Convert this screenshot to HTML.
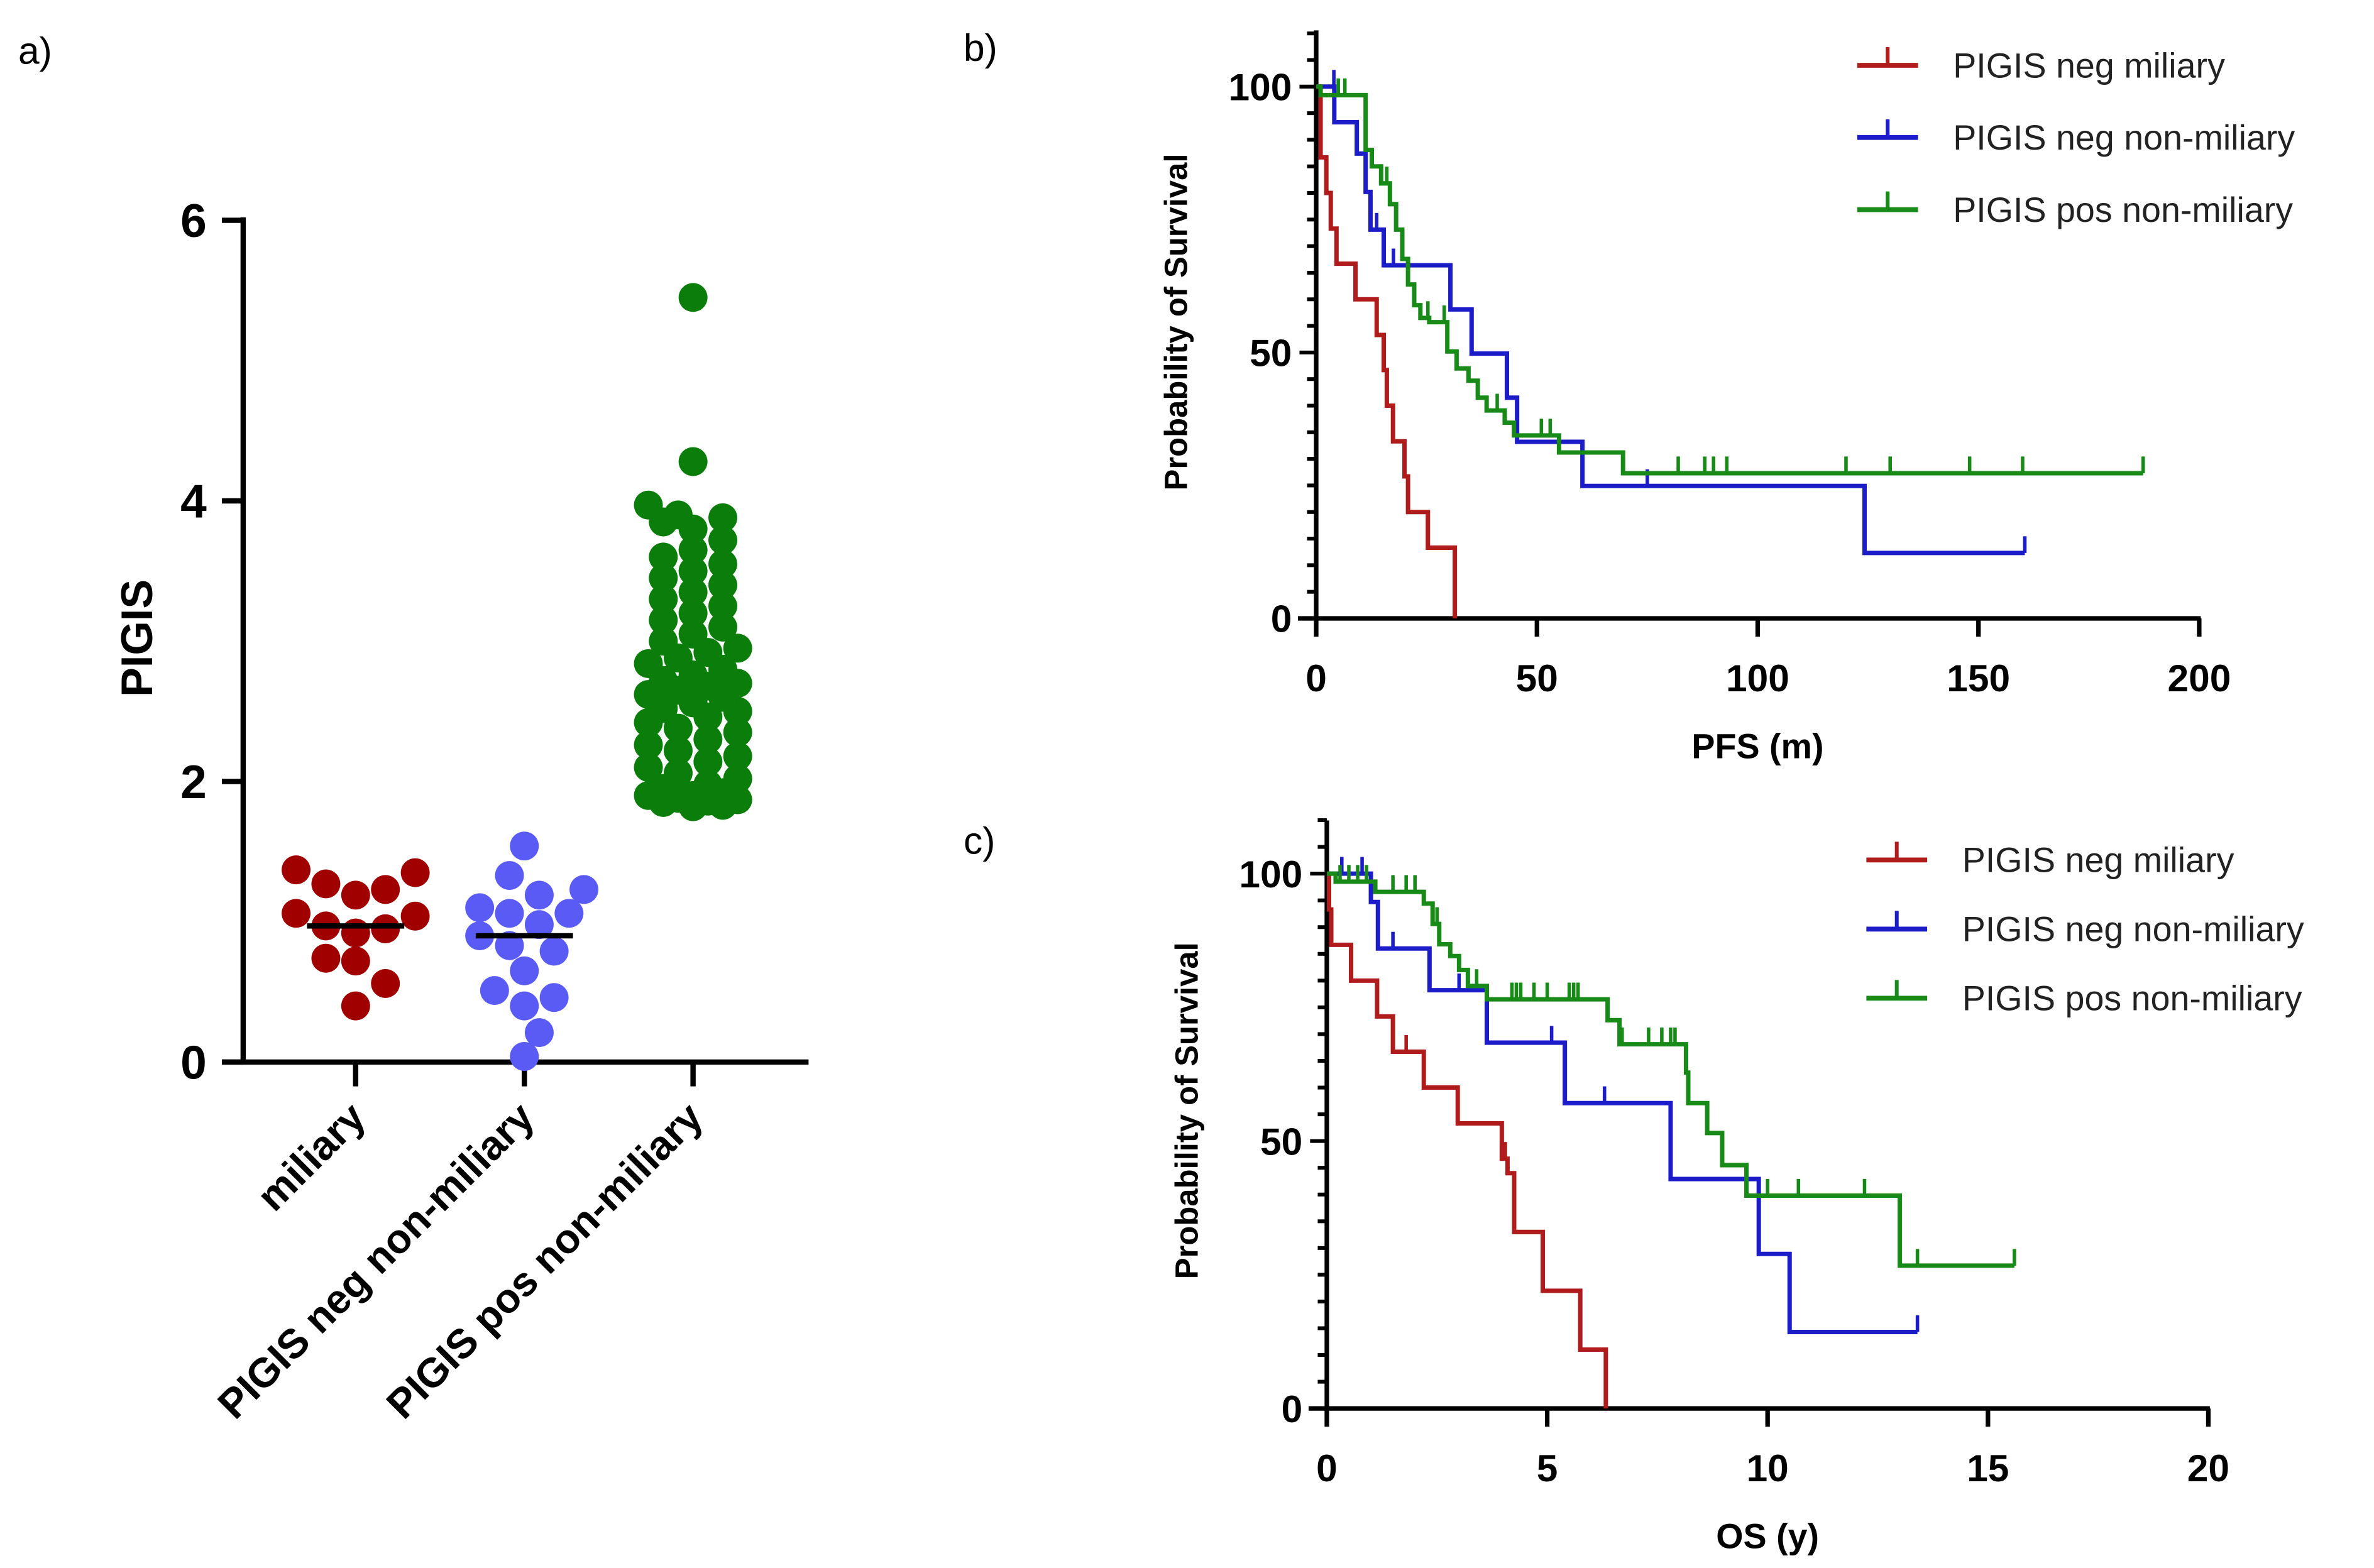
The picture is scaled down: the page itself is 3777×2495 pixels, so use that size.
<!DOCTYPE html>
<html><head><meta charset="utf-8"><style>
html,body{margin:0;padding:0;background:#fff;}
svg{display:block;}
text{font-family:"Liberation Sans",Arial,sans-serif;}
</style></head><body>
<svg id="fig" xmlns="http://www.w3.org/2000/svg" width="3777" height="2495" viewBox="0 0 1562 1032" preserveAspectRatio="none">
<rect width="1562" height="1032" fill="#fff"/>
<text x="12" y="42" font-size="25">a)</text>
<text x="634" y="40" font-size="25">b)</text>
<text x="634" y="562" font-size="25">c)</text>
<g id="pa"></g>
<g id="pb"></g>
<g id="pc"></g>
</svg>
<script>
// ---------- Panel a data ----------
const catLabels = ["miliary","PIGIS neg non-miliary","PIGIS pos non-miliary"];
const redVals = [1.27,1.23,1.35,1.37,1.19,1.04,1.06,0.95,0.92,0.97,0.72,0.74,0.56,0.40];
const blueVals = [1.06,1.10,1.33,1.54,1.19,1.23,1.06,0.98,0.90,0.83,0.79,0.65,0.51,0.46,0.40,0.21,0.04];
const greenVals = [5.45,4.28,3.97,3.9,3.88,3.85,3.8,3.72,3.65,3.6,3.55,3.5,3.45,3.4,3.35,3.3,3.25,3.2,3.15,3.1,3.05,3.0,2.95,2.92,2.88,2.84,2.8,2.76,2.72,2.7,2.68,2.65,2.62,2.6,2.56,2.52,2.5,2.46,2.42,2.38,2.35,2.3,2.26,2.22,2.18,2.14,2.1,2.06,2.02,1.98,1.95,1.92,1.9,1.88,1.86,1.85,1.83,1.82,1.87,1.9];
const medians = [0.97,0.90,null];
const yTicksA = [0,2,4,6];

// ---------- Panel b data (PFS, months, %) ----------
const bRedT = [1,2.3,3.3,4.6,8.9,13.7,15.3,16,17.4,20,20.8,25.3,31.4];
const bRedS = [86.7,80,73.3,66.7,60,53.3,46.7,40,33.3,26.7,20,13.3,0];
const bRedCens = [];
const bBlueT = [4.1,9.2,11.2,12.3,15.3,30.4,35.2,43.2,45.5,60.3,124.2];
const bBlueS = [93.3,87.4,80.2,73.1,66.4,58.1,49.8,41.5,33.2,24.9,12.3];
const bBlueCens = [4,13.7,17.5,75,160.5];
const bBlueEnd = 160.5;
const bGreenT = [1,11.2,12.6,14.7,16.7,18.1,19.5,20.8,22.2,23.6,25.6,29.7,31.8,34.5,36.6,38.6,42.7,44.8,55,69.5,92.1];
const bGreenS = [98.4,88.1,85,81.8,77.9,73.1,67.6,62.8,58.9,56.5,55.7,50.2,47,44.7,41.5,39.1,36.8,34.4,31.2,27.3,27.3];
const bGreenCens = [5,6.5,16,25.3,29,41,51,53,82,88,90,93,120,130,148,160,187.3];
const bGreenEnd = 187.3;
const bXTicks = [0,50,100,150,200];

// ---------- Panel c data (OS, years, %) ----------
const cRedT = [0.05,0.1,0.55,1.14,1.5,2.2,2.97,3.97,4.1,4.25,4.9,5.75,6.33];
const cRedS = [93.3,86.7,80,73.3,66.7,60,53.3,46.7,44,33,22,11,0];
const cRedCens = [1.8,4.05];
const cBlueT = [1.0,1.16,2.33,3.63,5.4,7.8,9.8,10.5];
const cBlueS = [94.7,86,78.2,68.4,57.1,42.9,28.9,14.3];
const cBlueCens = [0.34,0.8,1.5,3.0,5.1,6.3,13.4];
const cBlueEnd = 13.4;
const cGreenT = [0.2,1.1,2.2,2.4,2.55,2.8,3.0,3.2,3.63,6.37,6.64,8.15,8.2,8.63,8.97,9.52,13.0];
const cGreenS = [98.5,96.6,94.4,90.6,86.8,84.6,82,79,76.5,72.6,68.1,62.8,57.1,51.5,45.5,39.8,26.7];
const cGreenCens = [0.3,0.5,0.7,0.9,1.5,1.8,2.0,2.5,3.4,4.2,4.3,4.4,4.7,5.0,5.5,5.6,5.7,6.7,7.3,7.6,7.8,7.9,10.0,10.7,12.2,13.4,15.6];
const cGreenEnd = 15.6;
const cXTicks = [0,5,10,15,20];
const kmYTicks = [0,50,100];
const legendLabels = ["PIGIS neg miliary","PIGIS neg non-miliary","PIGIS pos non-miliary"];

const NS="http://www.w3.org/2000/svg";
function mk(parent,tag,attrs,txt){const e=document.createElementNS(NS,tag);for(const k in attrs)e.setAttribute(k,attrs[k]);if(txt!==undefined)e.textContent=txt;parent.appendChild(e);return e;}

// ---------- Panel a ----------
(function(){
const g=document.getElementById('pa');
const ax0=160, y0=699, y6=145;
const yS=v=>y0-(v-0)*(y0-y6)/6;
const catX=[234,345,456];
let e=mk(g,'line',{x1:ax0,y1:y6-2,x2:ax0,y2:y0+1,stroke:'#000','stroke-width':3.5});

e=mk(g,'line',{x1:ax0-14,y1:y0,x2:532,y2:y0,stroke:'#000','stroke-width':3.5});

yTicksA.forEach(v=>{
 const l=mk(g,'line',{x1:ax0-14,y1:yS(v),x2:ax0,y2:yS(v),stroke:'#000','stroke-width':3.5});
 
 const t=mk(g,'text',{x:ax0-24,y:yS(v)+11,'text-anchor':'end','font-size':31,'font-weight':'bold'},String(v));
 
});
e=mk(g,'text',{x:0,y:0,transform:'translate(100,420) rotate(-90)','text-anchor':'middle','font-size':29,'font-weight':'bold'},'PIGIS');

catX.forEach((x,i)=>{
 const l=mk(g,'line',{x1:x,y1:y0,x2:x,y2:y0+16,stroke:'#000','stroke-width':3.5});
 
 const t=mk(g,'text',{x:0,y:0,transform:`translate(${x+8},${y0+38}) rotate(-45)`,'text-anchor':'end','font-size':27,'font-weight':'bold'},catLabels[i]);
 
});
const r=9.5, step=19.6;
function swarm(vals,cx,color,name,minD,maxDx){
 const placed=[];
 const order=vals.map((v,i)=>i).sort((a,b)=>vals[a]-vals[b]);
 order.forEach(i=>{
  const y=yS(vals[i]);
  const cands=[0];for(let k=1;k<10;k++){cands.push(k*step/2);cands.push(-k*step/2);}
  let best=0,bestD=-1;
  for(const c of cands){
   if(Math.abs(c)>maxDx)continue;
   const md=placed.length?Math.min(...placed.map(p=>Math.hypot(p[0]-c,p[1]-y))):999;
   if(md>=minD){best=c;bestD=md;break;}
   if(md>bestD){bestD=md;best=c;}
  }
  placed.push([best,y]);
  const d=mk(g,'circle',{cx:cx+best,cy:y,r:r,fill:color});
  
 });
}
swarm(redVals,catX[0],'#a00000','miliary-point',step*0.92,45);
swarm(blueVals,catX[1],'#5a5af5','neg-non-miliary-point',step*0.92,45);
swarm(greenVals,catX[2],'#0a7d0a','pos-non-miliary-point',step*0.7,38);
medians.forEach((m,i)=>{if(m===null)return;
 const l=mk(g,'line',{x1:catX[i]-32,y1:yS(m),x2:catX[i]+32,y2:yS(m),stroke:'#000','stroke-width':3.5});
 
});
})();

// ---------- KM panels ----------
function km(gid,cfg){
const g=document.getElementById(gid);
const {x0,x1,xmax,y0,y100,ytop,xTicks,xTitle,leg,series}=cfg;
const xS=t=>x0+t*(x1-x0)/xmax;
const yS=s=>y0-s*(y0-y100)/100;
let e=mk(g,'line',{x1:x0,y1:ytop,x2:x0,y2:y0+1,stroke:'#000','stroke-width':3});

e=mk(g,'line',{x1:x0-12,y1:y0,x2:x1+1,y2:y0,stroke:'#000','stroke-width':3});

for(let v=0;v<=110;v+=5){
 const major=v%50===0;
 const l=mk(g,'line',{x1:x0-(major?11:6),y1:yS(v),x2:x0,y2:yS(v),stroke:'#000','stroke-width':2.5});
 
}
kmYTicks.forEach(v=>{
 const t=mk(g,'text',{x:x0-16,y:yS(v)+9,'text-anchor':'end','font-size':25,'font-weight':'bold'},String(v));
 
});
xTicks.forEach(v=>{
 const l=mk(g,'line',{x1:xS(v),y1:y0,x2:xS(v),y2:y0+12,stroke:'#000','stroke-width':3});
 
 const t=mk(g,'text',{x:xS(v),y:y0+48,'text-anchor':'middle','font-size':25,'font-weight':'bold'},String(v));
 
});
e=mk(g,'text',{x:(x0+x1)/2,y:y0+92,'text-anchor':'middle','font-size':23,'font-weight':'bold'},xTitle);

e=mk(g,'text',{x:0,y:0,transform:`translate(${x0-85},${(y0+y100)/2-20}) rotate(-90)`,'text-anchor':'middle','font-size':21,'font-weight':'bold'},'Probability of Survival');

series.forEach((s,si)=>{
 let d=`M${xS(0)},${yS(100)}`;
 s.T.forEach((t,i)=>{d+=` H${xS(t)} V${yS(s.S[i])}`;});
 if(s.end!==undefined) d+=` H${xS(s.end)}`;
 const p=mk(g,'path',{d:d,fill:'none',stroke:s.color,'stroke-width':2.9});
 
 s.C.forEach(c=>{
  let lv=100;s.T.forEach((t,i)=>{if(t<=c)lv=s.S[i];});
  const l=mk(g,'line',{x1:xS(c),y1:yS(lv),x2:xS(c),y2:yS(lv)-11,stroke:s.color,'stroke-width':2.3});
  
 });
 const ly=leg.y+si*leg.dy;
 const lg=mk(g,'g',{});
 
 mk(lg,'line',{x1:leg.x,y1:ly,x2:leg.x+40,y2:ly,stroke:s.color,'stroke-width':3.2});
 mk(lg,'line',{x1:leg.x+20,y1:ly,x2:leg.x+20,y2:ly-12,stroke:s.color,'stroke-width':2.5});
 mk(lg,'text',{x:leg.x+63,y:ly+8,'font-size':23,fill:'#222'},legendLabels[si]);
});
}
km('pb',{x0:866,x1:1447,xmax:200,y0:407,y100:57,ytop:20,xTicks:bXTicks,xTitle:'PFS (m)',
 leg:{x:1222,y:43,dy:47.5},
 series:[{T:bRedT,S:bRedS,C:bRedCens,color:'#b01c1c',name:'neg-miliary'},
 {T:bBlueT,S:bBlueS,C:bBlueCens,end:bBlueEnd,color:'#1c1cc8',name:'neg-non-miliary'},
 {T:bGreenT,S:bGreenS,C:bGreenCens,end:bGreenEnd,color:'#178a17',name:'pos-non-miliary'}]});
km('pc',{x0:873,x1:1453,xmax:20,y0:927,y100:575,ytop:540,xTicks:cXTicks,xTitle:'OS (y)',
 leg:{x:1228,y:566,dy:45.5},
 series:[{T:cRedT,S:cRedS,C:cRedCens,color:'#b01c1c',name:'neg-miliary'},
 {T:cBlueT,S:cBlueS,C:cBlueCens,end:cBlueEnd,color:'#1c1cc8',name:'neg-non-miliary'},
 {T:cGreenT,S:cGreenS,C:cGreenCens,end:cGreenEnd,color:'#178a17',name:'pos-non-miliary'}]});
</script>
</body></html>
